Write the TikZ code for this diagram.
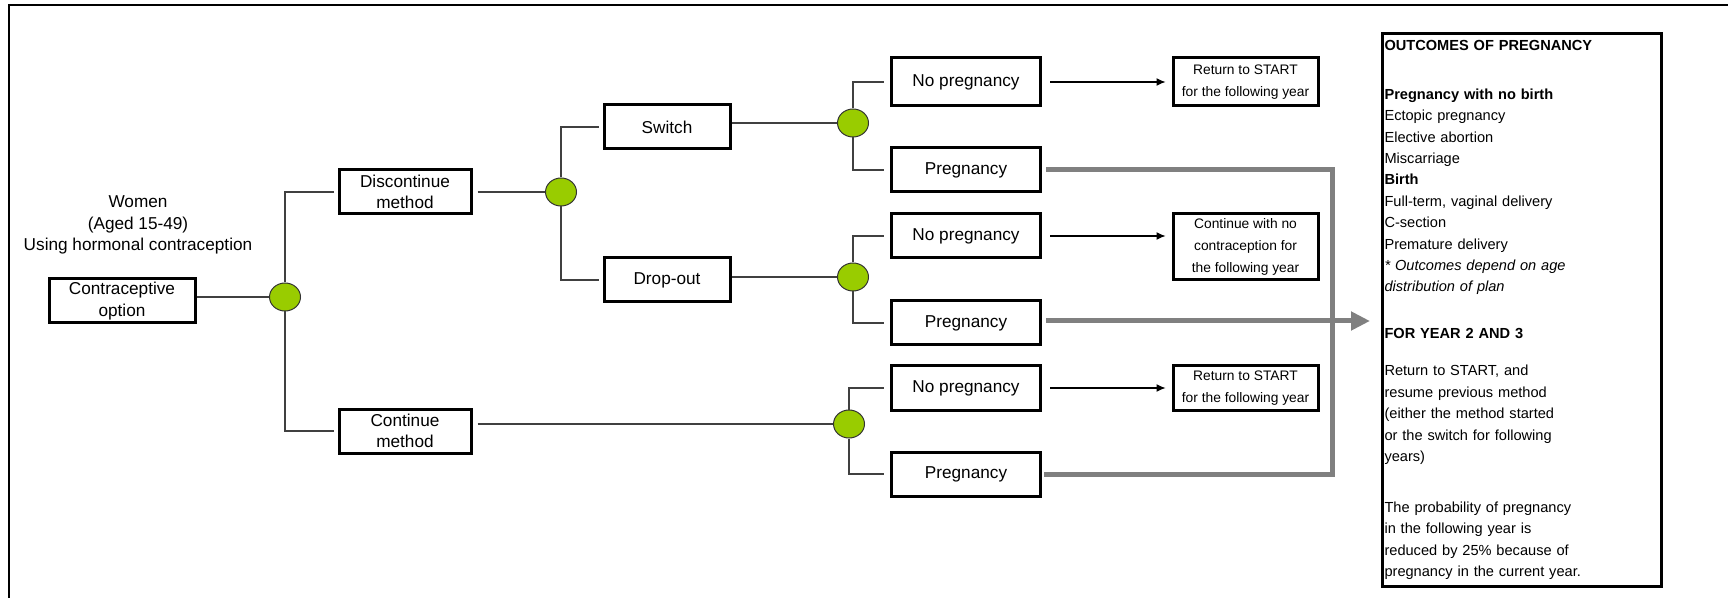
\documentclass[tikz,border=0pt]{standalone}
\usepackage{fontspec}
\setmainfont{Liberation Sans}
\usetikzlibrary{positioning,shapes.geometric,arrows.meta}
\definecolor{nodegreen}{RGB}{153,204,0}
\definecolor{pathgray}{RGB}{128,128,128}
\definecolor{linegray}{RGB}{64,64,64}

\begin{document}
\begin{tikzpicture}[x=0.5pt,y=-0.5pt,
	box/.style={draw=black,line width=1.5pt,minimum width=74.5pt,minimum height=22pt,inner sep=1pt,align=center,font=\fontsize{8.6}{10.8}\selectfont},
	smallbox/.style={draw=black,line width=1.5pt,minimum width=72.5pt,inner sep=1pt,align=center,font=\fontsize{6.9}{11}\selectfont},
	chance/.style={shape=ellipse,draw=black!80,fill=nodegreen,line width=0.5pt,minimum width=15.5pt,minimum height=14pt,inner sep=0pt},
	branch/.style={draw=linegray,line width=0.6pt},
	outcome/.style={-{Latex[length=4.5pt,width=4pt]},line width=0.6pt},
	pregpath/.style={draw=pathgray,line width=2.5pt},
	outbox/.style={draw=black,line width=1.5pt,text width=137.5pt,minimum height=274.5pt,inner xsep=1pt,align=left,font=\fontsize{7.3}{10.7}\selectfont}]
	\useasboundingbox (0,0) rectangle (1728,598);
	\draw[line width=1pt] (1728,5.5) -- (9,5.5) -- (9,598);

	\node[align=center,font=\fontsize{8.6}{10.8}\selectfont] (women) at (138,225) {Women\\(Aged 15-49)\\Using hormonal contraception};
	\node[box,minimum width=73pt] (opt) at (122,301) {Contraceptive\\option};
	\node[chance] (c1) at (285,297) {};
	\node[box,minimum width=66pt] (disc) at (405,192) {Discontinue\\method};
	\node[box,minimum width=66pt] (cont) at (405,431) {Continue\\method};
	\node[chance] (c2) at (561,192) {};
	\node[box,minimum width=63pt] (switch) at (667,127) {Switch};
	\node[box,minimum width=63pt] (drop) at (667,280) {Drop-out};
	\node[chance] (c3) at (853,123) {};
	\node[chance] (c4) at (853,277) {};
	\node[chance] (c5) at (849,424) {};

	\node[box,minimum height=24pt] (np1) at (966,82)  {No pregnancy};
	\node[box] (p1)  at (966,170) {Pregnancy};
	\node[box] (np2) at (966,236) {No pregnancy};
	\node[box] (p2)  at (966,323) {Pregnancy};
	\node[box] (np3) at (966,388) {No pregnancy};
	\node[box] (p3)  at (966,474) {Pregnancy};

	\node[smallbox,minimum height=24pt] (ret1)  at (1245.5,82)  {Return to START\\for the following year};
	\node[smallbox,minimum height=33pt] (nocon) at (1245.5,247) {Continue with no\\contraception for\\the following year};
	\node[smallbox,minimum height=22pt] (ret3)  at (1245.5,388) {Return to START\\for the following year};

	\node[outbox,anchor=north west] (out) at (1381,32) {\textbf{OUTCOMES OF PREGNANCY}\\[13.8pt]
		\textbf{Pregnancy with no birth}\\
		Ectopic pregnancy\\
		Elective abortion\\
		Miscarriage\\
		\textbf{Birth}\\
		Full-term, vaginal delivery\\
		C-section\\
		Premature delivery\\
		\textit{* Outcomes depend on age}\\
		\textit{distribution of plan}\\[12.8pt]
		\textbf{FOR YEAR 2 AND 3}\\[7.8pt]
		Return to START, and\\
		resume previous method\\
		(either the method started\\
		or the switch for following\\
		years)\\[14.8pt]
		The probability of pregnancy\\
		in the following year is\\
		reduced by 25\% because of\\
		pregnancy in the current year.};

	\coordinate (gx) at (1332,300);
	\coordinate (tip) at (1370,321);

	\draw[branch] (opt.east |- c1) -- (c1);
	\draw[branch,shorten >=2pt] (c1.north) |- (disc.west);
	\draw[branch,shorten >=2pt] (c1.south) |- (cont.west);
	\draw[branch,shorten <=2.5pt] (disc) -- (c2);
	\draw[branch,shorten >=2pt] (c2.north) |- (switch.west);
	\draw[branch,shorten >=2pt] (c2.south) |- (drop.west);
	\draw[branch] (switch.east |- c3) -- (c3);
	\draw[branch] (drop.east |- c4) -- (c4);
	\draw[branch,shorten <=2.5pt] (cont.east |- c5) -- (c5);
	\draw[branch,shorten >=3pt] (c3.north) |- (np1.west);
	\draw[branch,shorten >=3pt] (c3.south) |- (p1.west);
	\draw[branch,shorten >=3pt] (c4.north) |- (np2.west);
	\draw[branch,shorten >=3pt] (c4.south) |- (p2.west);
	\draw[branch,shorten >=3pt] (c5.north) |- (np3.west);
	\draw[branch,shorten >=3pt] (c5.south) |- (p3.west);

	\draw[outcome,shorten <=4pt,shorten >=3pt] (np1) -- (ret1);
	\draw[outcome,shorten <=4pt,shorten >=3pt] (np2) -- (np2 -| nocon.west);
	\draw[outcome,shorten <=4pt,shorten >=3pt] (np3) -- (ret3);

	\draw[pregpath] ([xshift=2pt]p1.east) -| (gx) |- ([xshift=1pt]p3.east);
	\draw[pregpath,-{Triangle[length=9.5pt,width=9pt]}] ([xshift=2pt]p2.east |- tip) -- (tip);
\end{tikzpicture}
\end{document}
